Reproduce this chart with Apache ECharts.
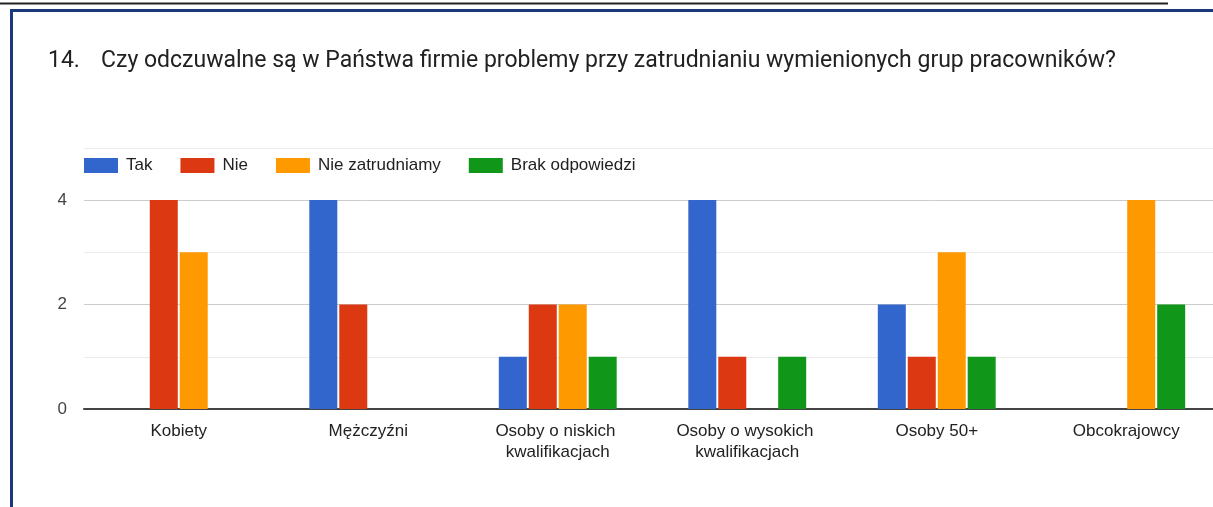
<!DOCTYPE html>
<html>
<head>
<meta charset="utf-8">
<script src="https://cdn.jsdelivr.net/npm/echarts@6/dist/echarts.min.js"></script>
<style>
html,body{margin:0;padding:0;background:#fff;}
#c{width:1213px;height:507px;}
</style>
</head>
<body>
<div id="c"></div>
<script>
const titleNumber = '14.';
const titleText = 'Czy odczuwalne są w Państwa firmie problemy przy zatrudnianiu wymienionych grup pracowników?';
const categories = ['Kobiety', 'Mężczyźni', 'Osoby o niskich kwalifikacjach', 'Osoby o wysokich kwalifikacjach', 'Osoby 50+', 'Obcokrajowcy'];
const seriesNames = ['Tak', 'Nie', 'Nie zatrudniamy', 'Brak odpowiedzi'];
const tak = [0, 4, 1, 4, 2, 0];
const nie = [4, 2, 2, 1, 1, 0];
const nieZatrudniamy = [3, 0, 2, 0, 3, 4];
const brak = [0, 0, 1, 1, 1, 2];
const yTickLabels = [0, 2, 4];
const colors = ['#3366cc', '#dc3912', '#ff9900', '#109618'];

const font = 'Arial, "Liberation Sans", sans-serif';
const chart = echarts.init(document.getElementById('c'), null, {renderer: 'canvas'});
const values = [tak, nie, nieZatrudniamy, brak];

chart.setOption({
  animation: false,
  color: colors,
  title: [
    {text: titleNumber, left: 48, top: 50, padding: 0, textStyle: {fontFamily: 'Roboto, Arial, sans-serif', fontSize: 23, fontWeight: 'normal', color: '#212121'}},
    {text: titleText, left: 101, top: 50, padding: 0, textStyle: {fontFamily: 'Roboto, Arial, sans-serif', fontSize: 23, fontWeight: 'normal', color: '#212121'}}
  ],
  legend: {
    left: 84, top: 157, padding: 0,
    itemWidth: 34, itemHeight: 15, itemGap: 28,
    icon: 'rect',
    textStyle: {fontFamily: font, fontSize: 17, color: '#222', padding: [0, 0, 0, 3]},
    data: seriesNames
  },
  grid: {left: 84, top: 147.75, width: 1137, bottom: 98, containLabel: false, outerBoundsMode: 'none'},
  xAxis: {
    type: 'category',
    data: categories,
    axisTick: {show: false},
    axisLine: {lineStyle: {color: '#444', width: 2}},
    axisLabel: {
      fontFamily: font, fontSize: 17, color: '#222', margin: 12, lineHeight: 21,
      width: 175, overflow: 'break', interval: 0
    }
  },
  yAxis: {
    type: 'value', min: 0, max: 5, interval: 1,
    axisLine: {show: false}, axisTick: {show: false},
    axisLabel: {
      fontFamily: font, fontSize: 17, color: '#444', margin: 17,
      formatter: v => yTickLabels.includes(v) ? String(v) : ''
    },
    splitLine: {lineStyle: {color: ['#cccccc', '#ebebeb'], width: 1}}
  },
  series: seriesNames.map((n, i) => ({
    name: n, type: 'bar', data: values[i],
    barWidth: 28, barGap: '7%',
    itemStyle: {borderWidth: 0}
  })),
  graphic: [
    {type: 'line', shape: {x1: 0, y1: 3.5, x2: 1168, y2: 3.5}, style: {stroke: '#222', lineWidth: 2}, silent: true},
    {type: 'line', shape: {x1: 11.5, y1: 10, x2: 11.5, y2: 507}, style: {stroke: '#1b3a7c', lineWidth: 3}, silent: true},
    {type: 'line', shape: {x1: 10, y1: 10.5, x2: 1213, y2: 10.5}, style: {stroke: '#1b3a7c', lineWidth: 3}, silent: true}
  ]
});
</script>
</body>
</html>
